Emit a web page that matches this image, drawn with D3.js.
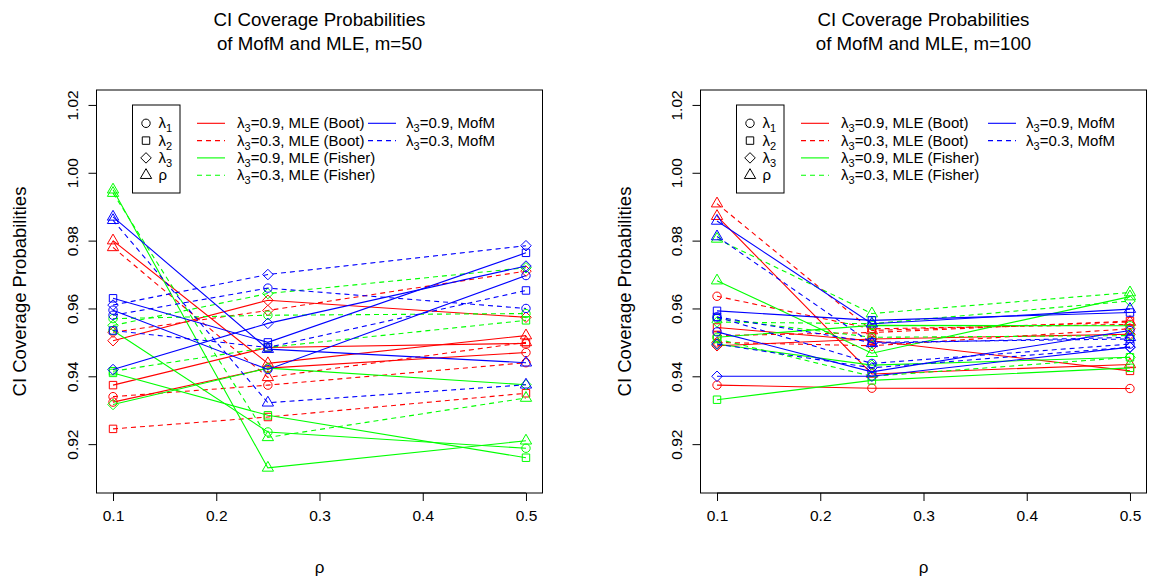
<!DOCTYPE html>
<html>
<head>
<meta charset="utf-8">
<script src="https://cdn.jsdelivr.net/npm/d3@7"></script>
<style>
  body { margin: 0; background: #fff; }
  text { font-family: "Liberation Sans", Arial, sans-serif; fill: #000; }
</style>
</head>
<body>
<div id="chart"></div>
<script>
// x positions (rho) and axis ticks
var rhoValues = [0.1, 0.25, 0.5];
var xTicks = [0.1, 0.2, 0.3, 0.4, 0.5];
var yTicks = [0.92, 0.94, 0.96, 0.98, 1.00, 1.02];

// parameter order inside each series: lambda1, lambda2, lambda3, rho
var paramSubs = ['1', '2', '3', ''];

// ---- m = 50 ----
var m50BootHi   = [[0.9324, 0.9424, 0.9470], [0.9374, 0.9485, 0.9497], [0.9505, 0.9624, 0.9574], [0.9800, 0.9438, 0.9520]];
var m50BootLo   = [[0.9340, 0.9374, 0.9440], [0.9245, 0.9280, 0.9350], [0.9530, 0.9594, 0.9710], [0.9780, 0.9397, 0.9500]];
var m50FisherHi = [[0.9535, 0.9236, 0.9188], [0.9410, 0.9285, 0.9160], [0.9317, 0.9424, 0.9375], [0.9950, 0.9130, 0.9210]];
var m50FisherLo = [[0.9570, 0.9580, 0.9585], [0.9415, 0.9485, 0.9565], [0.9550, 0.9644, 0.9720], [0.9940, 0.9220, 0.9336]];
var m50MofmHi   = [[0.9595, 0.9420, 0.9697], [0.9630, 0.9500, 0.9764], [0.9420, 0.9556, 0.9725], [0.9870, 0.9480, 0.9440]];
var m50MofmLo   = [[0.9580, 0.9660, 0.9600], [0.9535, 0.9485, 0.9653], [0.9610, 0.9700, 0.9785], [0.9860, 0.9322, 0.9375]];

// ---- m = 100 ----
var m100BootHi   = [[0.9374, 0.9365, 0.9364], [0.9544, 0.9505, 0.9416], [0.9490, 0.9510, 0.9524], [0.9872, 0.9407, 0.9435]];
var m100BootLo   = [[0.9636, 0.9540, 0.9553], [0.9520, 0.9529, 0.9563], [0.9500, 0.9490, 0.9540], [0.9909, 0.9535, 0.9560]];
var m100FisherHi = [[0.9515, 0.9550, 0.9549], [0.9331, 0.9388, 0.9425], [0.9495, 0.9433, 0.9456], [0.9682, 0.9468, 0.9635]];
var m100FisherLo = [[0.9570, 0.9515, 0.9520], [0.9510, 0.9400, 0.9456], [0.9560, 0.9555, 0.9622], [0.9805, 0.9585, 0.9647]];
var m100MofmHi   = [[0.9531, 0.9413, 0.9535], [0.9593, 0.9565, 0.9588], [0.9400, 0.9400, 0.9486], [0.9858, 0.9555, 0.9598]];
var m100MofmLo   = [[0.9575, 0.9438, 0.9495], [0.9575, 0.9500, 0.9510], [0.9495, 0.9425, 0.9486], [0.9812, 0.9497, 0.9515]];

// legend labels (text after the lambda_3)
var seriesLabels = ['=0.9, MLE (Boot)', '=0.3, MLE (Boot)', '=0.9, MLE (Fisher)', '=0.3, MLE (Fisher)', '=0.9, MofM', '=0.3, MofM'];

// styles
var seriesColors = ['#ff0000', '#ff0000', '#00ff00', '#00ff00', '#0000ff', '#0000ff'];
var seriesDash = [null, '5,4', null, '5,4', null, '5,4'];
var R = 4.2;

var svg = d3.select('#chart').append('svg')
  .attr('width', 1168)
  .attr('height', 580);

var panels = [
  { title: 'of MofM and MLE, m=50', left: 96.5, right: 542.5, series: [m50BootHi, m50BootLo, m50FisherHi, m50FisherLo, m50MofmHi, m50MofmLo],
    ylabX: 20, col2Line: 368, col2Text: 406 },
  { title: 'of MofM and MLE, m=100', left: 700.5, right: 1146.5, series: [m100BootHi, m100BootLo, m100FisherHi, m100FisherLo, m100MofmHi, m100MofmLo],
    ylabX: 625, col2Line: 988, col2Text: 1026 }
];

// NOTE: "top" is window.top, so use other names
var plotTop = 90, plotBottom = 493;

// draw an R style open symbol (pch 1, 0, 5, 2)
function drawSymbol(g, k, x, y, color) {
  var p;
  if (k === 0) {
    g.append('circle').attr('cx', x).attr('cy', y).attr('r', R)
      .attr('fill', 'none').attr('stroke', color);
    return;
  }
  if (k === 1) {
    var s = R * 0.886;
    p = [[x - s, y - s], [x + s, y - s], [x + s, y + s], [x - s, y + s]];
  } else if (k === 2) {
    var d = R * 1.2533;
    p = [[x, y - d], [x + d, y], [x, y + d], [x - d, y]];
  } else {
    p = [[x, y - R * 1.5551], [x + R * 1.3468, y + R * 0.7776], [x - R * 1.3468, y + R * 0.7776]];
  }
  g.append('polygon').attr('points', p.map(q => q.join(',')).join(' '))
    .attr('fill', 'none').attr('stroke', color);
}

// lambda with subscript, or rho
function paramText(t, sub) {
  if (sub === '') {
    t.append('tspan').text('ρ');
  } else {
    t.append('tspan').text('λ');
    t.append('tspan').attr('font-size', '11px').attr('dy', 4).text(sub);
  }
}

panels.forEach(function(p) {
  var x = d3.scaleLinear().domain([0.084, 0.516]).range([p.left, p.right]);
  var y = d3.scaleLinear().domain([0.9056, 1.0244]).range([plotBottom, plotTop]);
  var cx = (p.left + p.right) / 2;
  var g = svg.append('g');

  // lines then points
  p.series.forEach(function(ser, i) {
    ser.forEach(function(vals, k) {
      var pts = vals.map((v, j) => [x(rhoValues[j]), y(v)]);
      g.append('path')
        .attr('d', d3.line()(pts))
        .attr('fill', 'none')
        .attr('stroke', seriesColors[i])
        .attr('stroke-width', 1.1)
        .attr('stroke-dasharray', seriesDash[i]);
      pts.forEach(q => drawSymbol(g, k, q[0], q[1], seriesColors[i]));
    });
  });

  // box
  svg.append('rect')
    .attr('x', p.left).attr('y', plotTop)
    .attr('width', p.right - p.left).attr('height', plotBottom - plotTop)
    .attr('fill', 'none').attr('stroke', '#000');

  // x axis
  var xAxis = svg.append('g')
    .attr('transform', `translate(0, ${plotBottom})`)
    .call(d3.axisBottom(x).tickValues(xTicks).tickSize(8).tickPadding(9).tickFormat(d3.format('.1f')));
  xAxis.select('.domain').attr('d', `M${x(0.1)},0H${x(0.5)}`);
  xAxis.selectAll('text').attr('font-size', '15.5px').attr('font-family', '"Liberation Sans", Arial, sans-serif');

  // y axis, labels rotated like R
  var yAxis = svg.append('g')
    .attr('transform', `translate(${p.left}, 0)`)
    .call(d3.axisLeft(y).tickValues(yTicks).tickSize(8).tickFormat(d3.format('.2f')));
  yAxis.select('.domain').attr('d', `M0,${y(0.92)}V${y(1.02)}`);
  yAxis.selectAll('text').remove();
  yAxis.selectAll('.tick').append('text')
    .attr('transform', 'rotate(-90)')
    .attr('x', 0).attr('y', -19)
    .attr('text-anchor', 'middle')
    .attr('font-size', '15.5px')
    .text(d => d3.format('.2f')(d));

  // titles and axis labels
  svg.append('text').attr('x', cx).attr('y', 26).attr('text-anchor', 'middle')
    .attr('font-size', '18.7px').text('CI Coverage Probabilities');
  svg.append('text').attr('x', cx).attr('y', 50).attr('text-anchor', 'middle')
    .attr('font-size', '18.7px').text(p.title);
  svg.append('text').attr('x', cx).attr('y', 573).attr('text-anchor', 'middle')
    .attr('font-size', '17px').text('ρ');
  svg.append('text')
    .attr('transform', `translate(${p.ylabX}, ${(plotTop + plotBottom) / 2}) rotate(-90)`)
    .attr('text-anchor', 'middle').attr('dy', '0.35em')
    .attr('font-size', '18.5px').text('CI Coverage Probabilities');

  // legend: symbols
  var lx = p.left + 36;
  var rowY = [123.3, 140.6, 157.9, 175.2];
  svg.append('rect').attr('x', lx).attr('y', 105).attr('width', 47.5).attr('height', 88)
    .attr('fill', '#fff').attr('stroke', '#000');
  paramSubs.forEach(function(sub, k) {
    drawSymbol(svg, k, lx + 13.5, rowY[k], '#000');
    var t = svg.append('text').attr('x', lx + 26).attr('y', rowY[k] + 5).attr('font-size', '15px');
    paramText(t, sub);
  });

  // legend: lines
  seriesLabels.forEach(function(lab, i) {
    var col2 = i >= 4;
    var yy = col2 ? rowY[i - 4] : rowY[i];
    var l0 = col2 ? p.col2Line : p.left + 100.5;
    var t0 = col2 ? p.col2Text : p.left + 140.5;
    svg.append('line').attr('x1', l0).attr('x2', l0 + 28).attr('y1', yy).attr('y2', yy)
      .attr('stroke', seriesColors[i]).attr('stroke-width', 1.1)
      .attr('stroke-dasharray', seriesDash[i]);
    var t = svg.append('text').attr('x', t0).attr('y', yy + 5).attr('font-size', '15px');
    paramText(t, '3');
    t.append('tspan').attr('dy', -4).text(lab);
  });
});
</script>
</body>
</html>
